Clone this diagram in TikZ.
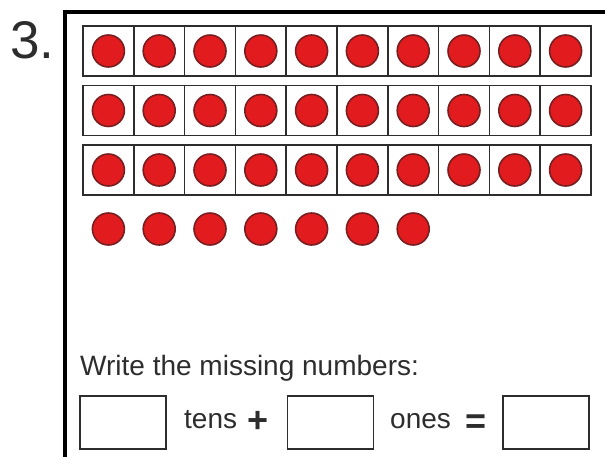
\documentclass[tikz,border=0pt]{standalone}
\usepackage{fontspec}
\setmainfont{Liberation Sans}
\usepackage{tikz}
\usetikzlibrary{positioning}
\definecolor{dotred}{RGB}{226,28,30}
\definecolor{dotrim}{RGB}{120,30,32}
\definecolor{inkgray}{RGB}{45,45,45}

\begin{document}
\begin{tikzpicture}[x=1pt,y=-1pt,
  cell/.style={draw=inkgray,line width=1.6pt,minimum width=50.8pt,minimum height=50pt,inner sep=0},
  counter/.style={circle,fill=dotred,draw=dotrim,line width=1.6pt,minimum size=32pt,inner sep=0},
  answer/.style={draw=inkgray,line width=1.3pt,minimum width=86pt,minimum height=53pt,inner sep=0},
  word/.style={inner sep=0,anchor=base west,font=\fontsize{28}{31}\selectfont,text=inkgray},
  sign/.style={inner sep=0,anchor=base,font=\fontsize{36}{38}\selectfont\bfseries,text=inkgray}]
\useasboundingbox (0,0) rectangle (605,456);
\clip (0,0) rectangle (605,456);
\fill[white] (0,0) rectangle (605,456);
\node[inner sep=0,anchor=base west,font=\fontsize{53}{56}\selectfont,text=inkgray] (num) at (10,58) {3.};
\draw[line width=3.2pt] (65,470) coordinate (fbl) -- (65,12) coordinate (ftl) -- (620,12) coordinate (ftr);
\foreach \r in {1,2,3}
  \foreach \c in {1,...,10}
  {
    \node[cell] (c-\r-\c) at ({83+50.8*(\c-0.5)},{51+59.5*(\r-1)}) {};
    \node[counter] (d-\r-\c) at (c-\r-\c) {};
  }
\foreach \c in {1,...,7}
  \node[counter] (e-\c) at ({83+50.8*(\c-0.5)},229) {};
\node[word] (ask) at (80,375) {Write the missing numbers:};
\node[answer] (tens) at (123,422.5) {};
\node[word] (tlab) at (184,428) {tens};
\node[sign] (plus) at (258.5,432) {+};
\node[answer] (ones) at (330.5,422.5) {};
\node[word] (olab) at (390,428) {ones};
\node[sign] (eq) at (476,433) {=};
\node[answer] (total) at (546,422.5) {};
\end{tikzpicture}
\end{document}
